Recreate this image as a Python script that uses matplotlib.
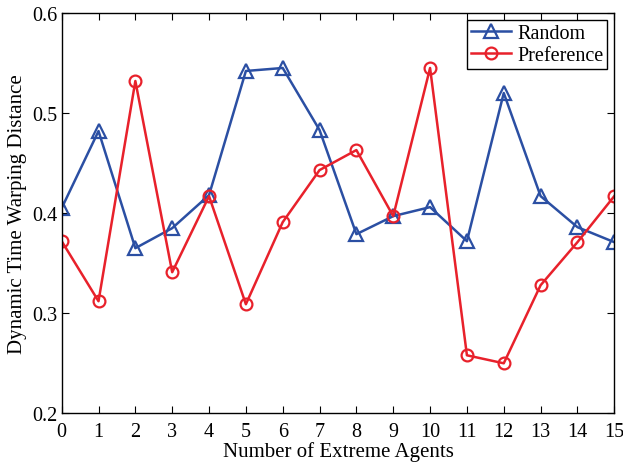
import matplotlib
matplotlib.use("Agg")
import matplotlib.pyplot as plt

# Data
agents = list(range(16))
random_dtw = [0.405, 0.482, 0.365, 0.385, 0.418, 0.542, 0.545, 0.483,
              0.379, 0.397, 0.406, 0.372, 0.520, 0.417, 0.386, 0.371]
preference_dtw = [0.372, 0.312, 0.532, 0.341, 0.417, 0.309, 0.391, 0.443,
                  0.463, 0.397, 0.545, 0.258, 0.250, 0.328, 0.371, 0.417]

plt.rcParams["font.family"] = ["Liberation Serif", "DejaVu Serif"]

fig = plt.figure(figsize=(6.23, 4.64), dpi=100)
ax = fig.add_axes([0.099, 0.107, 0.887, 0.863])

ax.plot(agents, random_dtw, color="#2b4fa3", linewidth=1.8, marker="^",
        markersize=9.5, markerfacecolor="none", markeredgewidth=1.6,
        label="Random")
ax.plot(agents, preference_dtw, color="#e8212b", linewidth=1.8, marker="o",
        markersize=8.5, markerfacecolor="none", markeredgewidth=1.6,
        label="Preference")

ax.set_xlim(0, 15)
ax.set_ylim(0.2, 0.6)
ax.set_xticks(agents)
ax.set_yticks([0.2, 0.3, 0.4, 0.5, 0.6])
ax.tick_params(direction="in", top=True, right=True, labelsize=14.5,
               length=5, width=0.8)
ax.tick_params(axis="x", pad=6)
ax.tick_params(axis="y", pad=3)
for s in ax.spines.values():
    s.set_linewidth(1.0)

ax.set_xlabel("Number of Extreme Agents", fontsize=15, labelpad=0)
ax.set_ylabel("Dynamic Time Warping Distance", fontsize=15, labelpad=4)

leg = ax.legend(loc="upper right", fontsize=14.5, fancybox=False,
                edgecolor="black", framealpha=1, borderpad=0.2,
                handlelength=2.0, handletextpad=0.3, labelspacing=0.15,
                borderaxespad=0.35)
leg.get_frame().set_linewidth(1.0)

fig.savefig("out.png", dpi=100)
